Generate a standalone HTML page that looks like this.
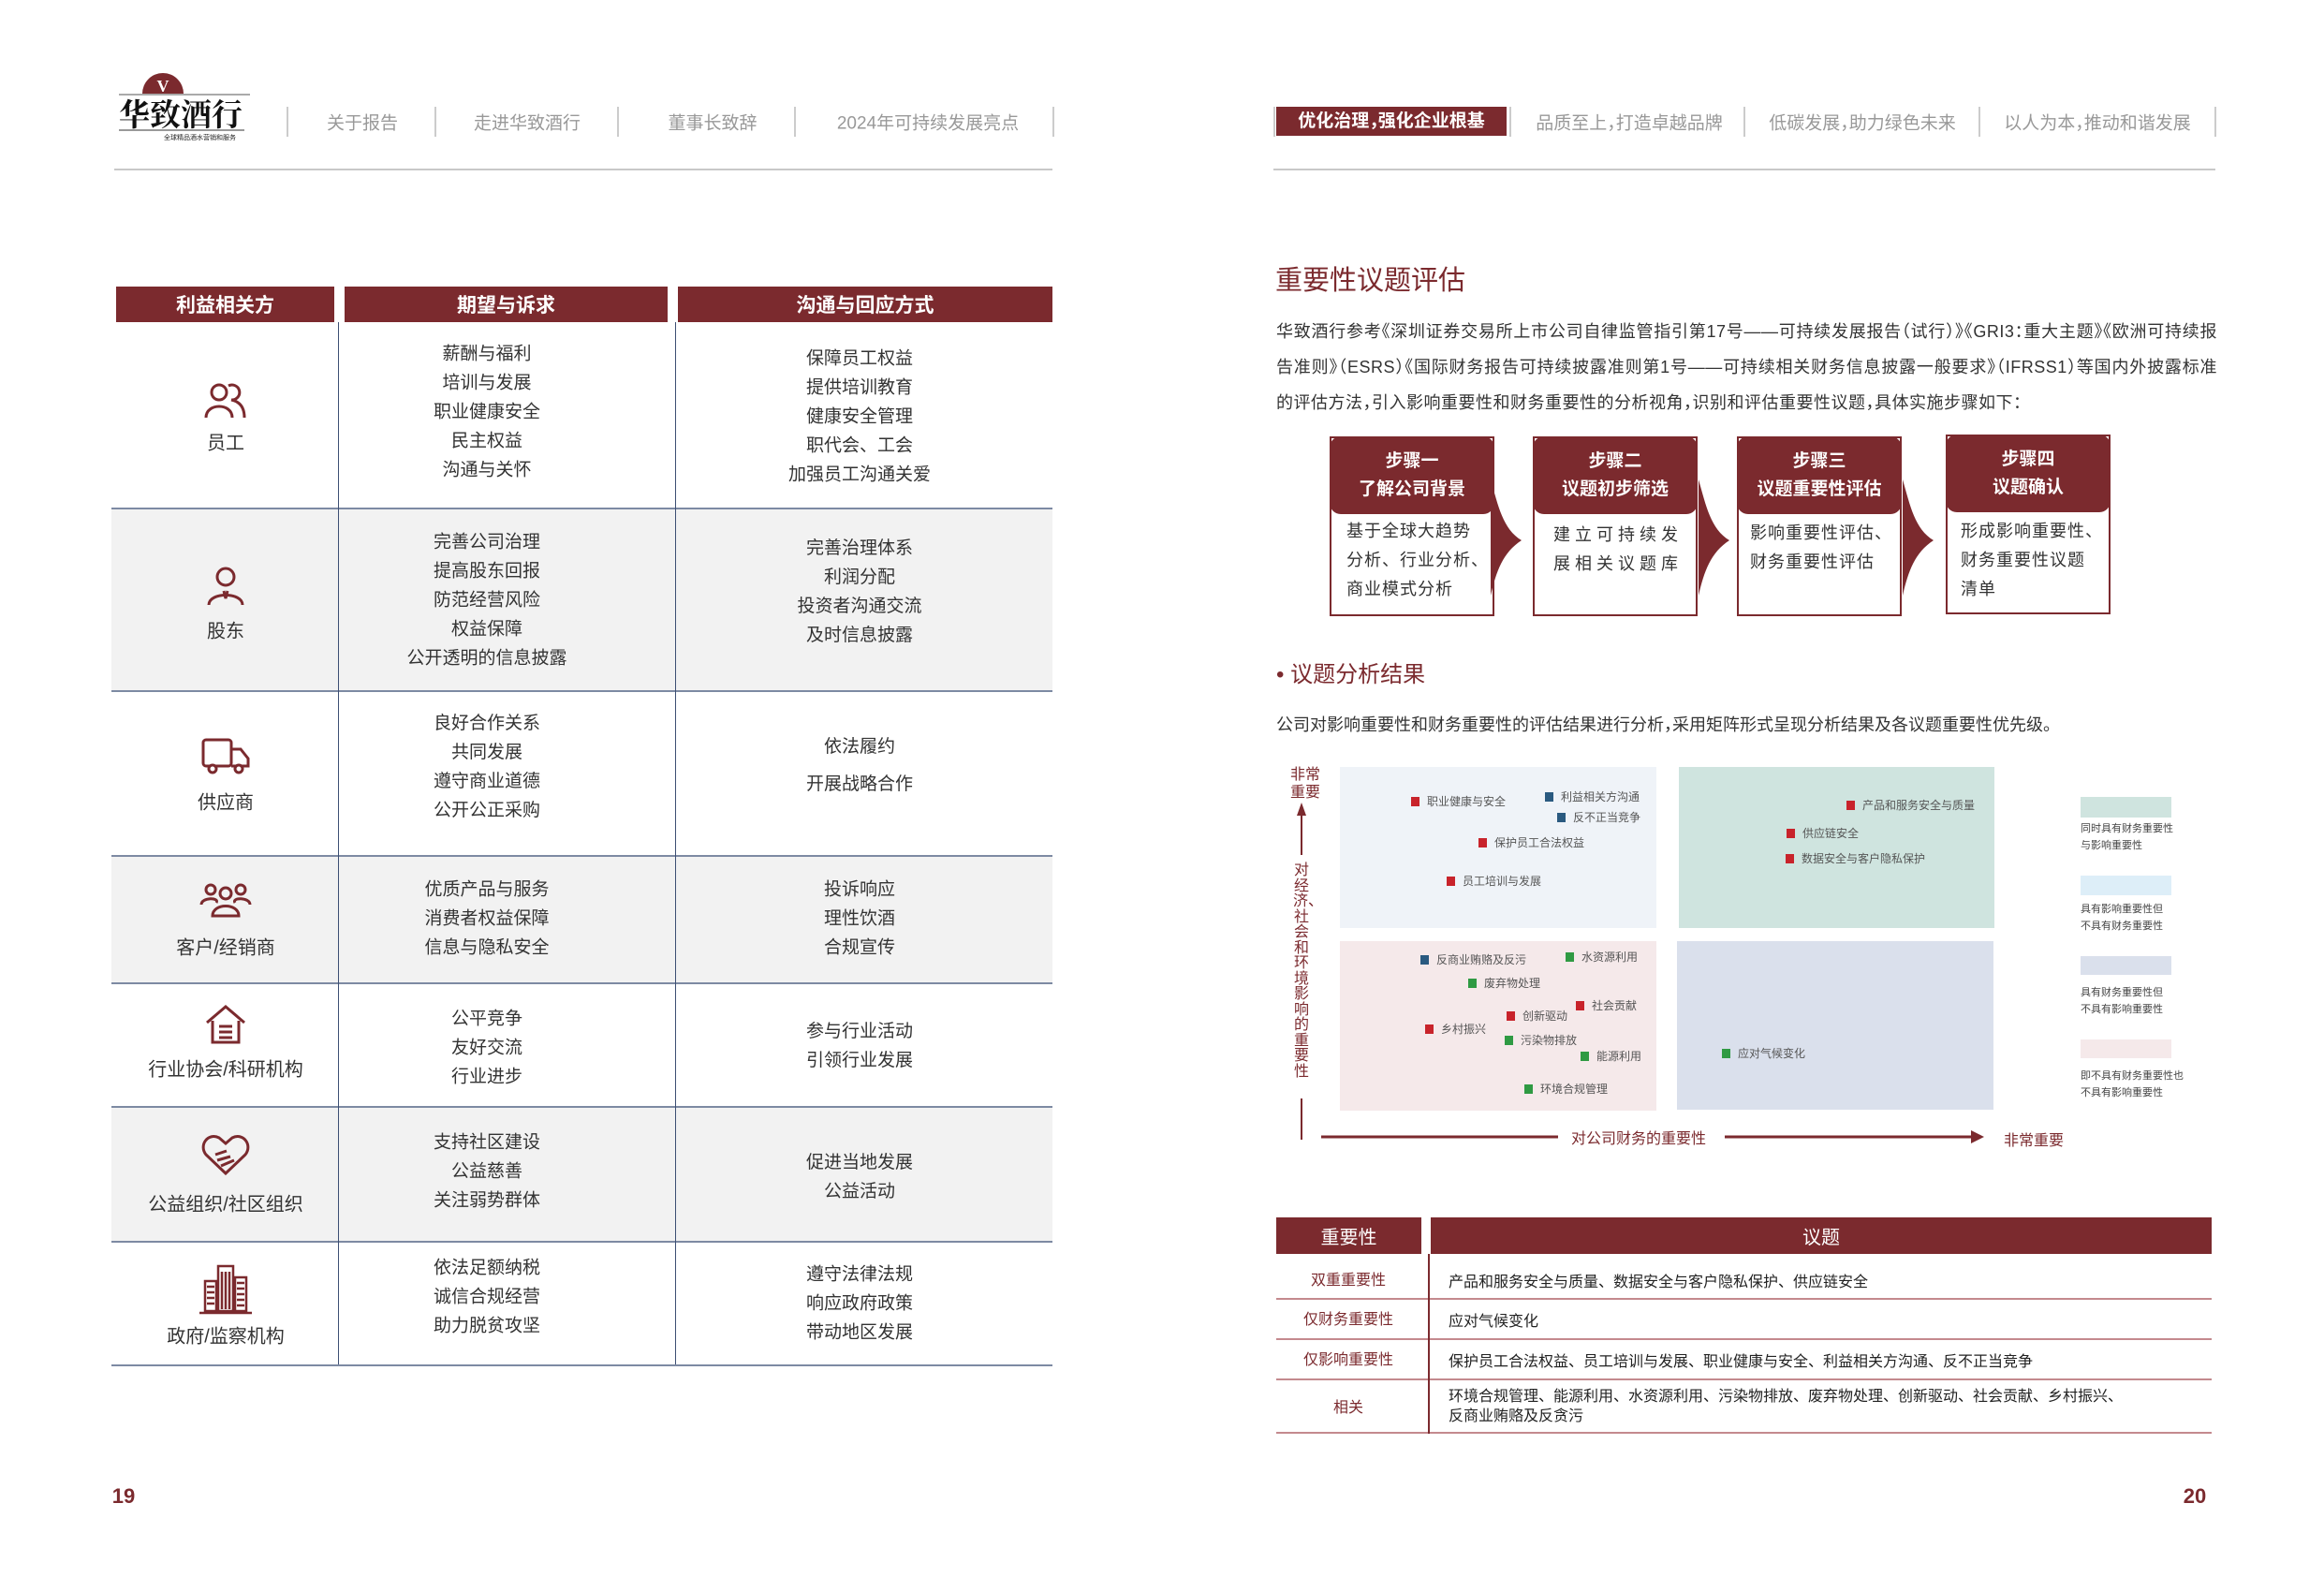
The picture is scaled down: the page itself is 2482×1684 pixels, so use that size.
<!DOCTYPE html>
<html><head><meta charset="utf-8"><style>
*{margin:0;padding:0;box-sizing:border-box}
body{width:2482px;height:1684px;background:#fff;position:relative;overflow:hidden;font-family:"Liberation Sans","Noto Sans CJK SC",sans-serif;color:#333}
.a{position:absolute;white-space:nowrap}
.c{position:absolute;white-space:nowrap;transform:translate(-50%,-50%);text-align:center}
.nav{font-size:19px;color:#999}
.sep{position:absolute;width:2px;background:#ccc}
.hd{position:absolute;background:#7b2a2e;color:#fff;font-weight:bold;font-size:21px;display:flex;align-items:center;justify-content:center}
.cell{font-size:19px;line-height:31px;color:#333}
.lbl{font-size:20px;color:#333}
.row{position:absolute;left:119px;width:1005px;border-bottom:2px solid #7d8aa3}
.mk{position:absolute;font-size:12px;color:#555;white-space:nowrap;line-height:12px}
.mk i{display:inline-block;width:9px;height:10px;margin-right:8px;vertical-align:-1px}
.r{background:#c8232b}.b{background:#2a5a80}.g{background:#2f9a43}
.lg{position:absolute;font-size:11px;color:#444;line-height:18px;left:2222px}
.step{position:absolute;top:466px;width:176px;height:192px;border:2px solid #7b2a2e;background:#fff}
.sh{position:absolute;left:-2px;top:-2px;width:176px;height:83px;background:#7b2a2e;border-radius:12px;color:#fff;font-weight:bold;font-size:19px;line-height:30px;text-align:center;padding-top:12px}
.sb{position:absolute;left:20px;top:84px;font-size:18px;line-height:31px;color:#333;letter-spacing:1px;white-space:nowrap}
.bt{position:absolute;left:1363px;width:999px;border-bottom:2px solid #c48a8e}
</style></head><body>

<!-- logo -->
<svg class="a" style="left:127px;top:68px" width="140" height="86" viewBox="0 0 140 86">
<path d="M25 32 A22 22 0 0 1 69 32 Z" fill="#7b2a2e"/>
<text x="47" y="30" font-size="18" font-weight="bold" fill="#fff" text-anchor="middle" font-family="Liberation Serif">V</text>
<line x1="0" y1="33" x2="140" y2="33" stroke="#555" stroke-width="1"/>
<text x="0" y="66" font-size="33" font-weight="bold" fill="#111" font-family="Noto Serif CJK SC,serif">华致酒行</text>
<line x1="0" y1="71" x2="134" y2="71" stroke="#333" stroke-width="1"/>
<text x="48" y="81" font-size="7" fill="#222" font-family="Noto Sans CJK SC">全球精品酒水营销和服务</text>
</svg>

<!-- left nav -->
<div class="sep" style="left:306px;top:114px;height:32px"></div>
<div class="sep" style="left:464px;top:114px;height:32px"></div>
<div class="sep" style="left:659px;top:114px;height:32px"></div>
<div class="sep" style="left:848px;top:114px;height:32px"></div>
<div class="sep" style="left:1124px;top:114px;height:32px"></div>
<div class="c nav" style="left:387px;top:130px">关于报告</div>
<div class="c nav" style="left:563px;top:130px">走进华致酒行</div>
<div class="c nav" style="left:761px;top:130px">董事长致辞</div>
<div class="c nav" style="left:991px;top:130px">2024年可持续发展亮点</div>
<div class="a" style="left:122px;top:180px;width:1002px;height:2px;background:#c8c8c8"></div>

<!-- right nav -->
<div class="sep" style="left:1360px;top:114px;height:32px"></div>
<div class="a" style="left:1363px;top:114px;width:246px;height:31px;background:#7b2a2e;color:#fff;font-weight:bold;font-size:19px;text-align:center;line-height:31px;font-feature-settings:'halt'">优化治理，强化企业根基</div>
<div class="sep" style="left:1612px;top:114px;height:32px"></div>
<div class="sep" style="left:1862px;top:114px;height:32px"></div>
<div class="sep" style="left:2113px;top:114px;height:32px"></div>
<div class="sep" style="left:2365px;top:114px;height:32px"></div>
<div class="c nav" style="left:1740px;top:130px;font-feature-settings:'halt'">品质至上，打造卓越品牌</div>
<div class="c nav" style="left:1989px;top:130px;font-feature-settings:'halt'">低碳发展，助力绿色未来</div>
<div class="c nav" style="left:2240px;top:130px;font-feature-settings:'halt'">以人为本，推动和谐发展</div>
<div class="a" style="left:1360px;top:180px;width:1006px;height:2px;background:#c8c8c8"></div>

<!-- left table -->
<div class="hd" style="left:124px;top:306px;width:233px;height:38px">利益相关方</div>
<div class="hd" style="left:368px;top:306px;width:345px;height:38px">期望与诉求</div>
<div class="hd" style="left:724px;top:306px;width:400px;height:38px">沟通与回应方式</div>

<div class="row" style="top:344px;height:200px"></div>
<div class="row" style="top:544px;height:195px;background:#f2f2f2"></div>
<div class="row" style="top:739px;height:176px"></div>
<div class="row" style="top:915px;height:136px;background:#f2f2f2"></div>
<div class="row" style="top:1051px;height:132px"></div>
<div class="row" style="top:1183px;height:144px;background:#f2f2f2"></div>
<div class="row" style="top:1327px;height:132px"></div>
<div class="a" style="left:361px;top:344px;width:1px;height:1113px;background:#3d4f73"></div>
<div class="a" style="left:721px;top:344px;width:1px;height:1113px;background:#3d4f73"></div>

<!-- icons -->
<svg class="c" style="left:241px;top:428px" width="48" height="40" viewBox="0 0 48 40" fill="none" stroke="#7b2a2e" stroke-width="3"><circle cx="17" cy="11" r="8"/><path d="M3 38 C3 22 31 22 31 38"/><path d="M27 4 A8 8 0 1 1 30 19 C40 21 44 28 44 38"/></svg>
<svg class="c" style="left:241px;top:626px" width="44" height="44" viewBox="0 0 44 44" fill="none" stroke="#7b2a2e" stroke-width="3"><circle cx="22" cy="12" r="9"/><path d="M4 42 C4 28 40 28 40 42"/><path d="M20 27 L22 35 L24 27"/></svg>
<svg class="c" style="left:241px;top:808px" width="52" height="40" viewBox="0 0 52 40" fill="none" stroke="#7b2a2e" stroke-width="3"><rect x="2" y="2" width="30" height="28" rx="3"/><path d="M32 12 H42 L50 22 V30 H32"/><circle cx="12" cy="33" r="4" fill="#fff"/><circle cx="40" cy="33" r="4" fill="#fff"/></svg>
<svg class="c" style="left:241px;top:962px" width="56" height="40" viewBox="0 0 56 40" fill="none" stroke="#7b2a2e" stroke-width="3"><circle cx="12" cy="8" r="5"/><circle cx="28" cy="12" r="6"/><circle cx="44" cy="8" r="5"/><path d="M2 24 C2 16 22 16 18 22"/><path d="M54 24 C54 16 34 16 38 22"/><path d="M14 36 C14 22 42 22 42 36 Z"/></svg>
<svg class="c" style="left:241px;top:1094px" width="48" height="44" viewBox="0 0 48 44" fill="none" stroke="#7b2a2e" stroke-width="3"><path d="M4 20 L24 3 L44 20 M10 18 V41 H38 V18"/><path d="M17 24 H31 M17 30 H31 M17 36 H31"/></svg>
<svg class="c" style="left:241px;top:1232px" width="54" height="46" viewBox="0 0 54 46" fill="none" stroke="#7b2a2e" stroke-width="3"><path d="M27 44 L6 24 C-2 14 8 0 20 6 L27 12 L34 6 C46 0 56 14 48 24 Z"/><path d="M16 24 L28 20 M18 30 L32 26 M22 36 L36 30"/></svg>
<svg class="c" style="left:241px;top:1376px" width="60" height="56" viewBox="0 0 60 56" fill="none" stroke="#7b2a2e" stroke-width="2.5"><rect x="8" y="20" width="12" height="32"/><rect x="22" y="4" width="16" height="48"/><rect x="40" y="16" width="12" height="36"/><path d="M2 54 H58 M26 10 V50 M30 10 V50 M34 10 V50 M10 26 H18 M10 32 H18 M10 38 H18 M10 44 H18 M42 22 H50 M42 28 H50 M42 34 H50 M42 40 H50 M42 46 H50"/></svg>

<div class="c lbl" style="left:241px;top:471px">员工</div>
<div class="c lbl" style="left:241px;top:672px">股东</div>
<div class="c lbl" style="left:241px;top:855px">供应商</div>
<div class="c lbl" style="left:241px;top:1010px">客户/经销商</div>
<div class="c lbl" style="left:241px;top:1140px">行业协会/科研机构</div>
<div class="c lbl" style="left:241px;top:1284px">公益组织/社区组织</div>
<div class="c lbl" style="left:241px;top:1425px">政府/监察机构</div>

<div class="c cell" style="left:520px;top:440px">薪酬与福利<br>培训与发展<br>职业健康安全<br>民主权益<br>沟通与关怀</div>
<div class="c cell" style="left:918px;top:445px">保障员工权益<br>提供培训教育<br>健康安全管理<br>职代会、工会<br>加强员工沟通关爱</div>
<div class="c cell" style="left:520px;top:641px">完善公司治理<br>提高股东回报<br>防范经营风险<br>权益保障<br>公开透明的信息披露</div>
<div class="c cell" style="left:918px;top:632px">完善治理体系<br>利润分配<br>投资者沟通交流<br>及时信息披露</div>
<div class="c cell" style="left:520px;top:819px">良好合作关系<br>共同发展<br>遵守商业道德<br>公开公正采购</div>
<div class="c cell" style="left:918px;top:818px;line-height:40px">依法履约<br>开展战略合作</div>
<div class="c cell" style="left:520px;top:981px">优质产品与服务<br>消费者权益保障<br>信息与隐私安全</div>
<div class="c cell" style="left:918px;top:981px">投诉响应<br>理性饮酒<br>合规宣传</div>
<div class="c cell" style="left:520px;top:1119px">公平竞争<br>友好交流<br>行业进步</div>
<div class="c cell" style="left:918px;top:1117px">参与行业活动<br>引领行业发展</div>
<div class="c cell" style="left:520px;top:1251px">支持社区建设<br>公益慈善<br>关注弱势群体</div>
<div class="c cell" style="left:918px;top:1257px">促进当地发展<br>公益活动</div>
<div class="c cell" style="left:520px;top:1385px">依法足额纳税<br>诚信合规经营<br>助力脱贫攻坚</div>
<div class="c cell" style="left:918px;top:1392px">遵守法律法规<br>响应政府政策<br>带动地区发展</div>

<div class="c" style="left:132px;top:1598px;font-size:22px;font-weight:bold;color:#7b2a2e">19</div>
<div class="c" style="left:2344px;top:1598px;font-size:22px;font-weight:bold;color:#7b2a2e">20</div>

<!-- right page -->
<div class="a" style="left:1362px;top:276px;font-size:29px;color:#7b2a2e">重要性议题评估</div>
<div class="a" style="left:1363px;top:335px;width:1005px;font-size:18px;line-height:38px;color:#333;white-space:normal;text-align:justify;font-feature-settings:'halt';letter-spacing:0.5px">华致酒行参考《深圳证券交易所上市公司自律监管指引第17号——可持续发展报告（试行）》《GRI3：重大主题》《欧洲可持续报告准则》（ESRS）《国际财务报告可持续披露准则第1号——可持续相关财务信息披露一般要求》（IFRSS1）等国内外披露标准的评估方法，引入影响重要性和财务重要性的分析视角，识别和评估重要性议题，具体实施步骤如下：</div>

<div class="step" style="left:1420px"><div class="sh">步骤一<br>了解公司背景</div><div class="sb" style="left:16px">基于全球大趋势<br>分析、行业分析、<br>商业模式分析</div></div>
<div class="step" style="left:1637px"><div class="sh">步骤二<br>议题初步筛选</div><div class="sb" style="top:88px;letter-spacing:5px">建立可持续发<br>展相关议题库</div></div>
<div class="step" style="left:1855px"><div class="sh">步骤三<br>议题重要性评估</div><div class="sb" style="left:12px;top:86px;letter-spacing:1px">影响重要性评估、<br>财务重要性评估</div></div>
<div class="step" style="left:2078px;top:464px"><div class="sh">步骤四<br>议题确认</div><div class="sb" style="left:14px;top:86px;letter-spacing:1px">形成影响重要性、<br>财务重要性议题<br>清单</div></div>
<svg class="a" style="left:0;top:0" width="2482" height="700" viewBox="0 0 2482 700">
<g fill="#7b2a2e">
<path d="M1592 512 C1600 540 1605 565 1625 577 C1605 590 1598 610 1592 636 Z"/>
<path d="M1814 512 C1822 540 1827 565 1847 577 C1827 590 1820 610 1814 636 Z"/>
<path d="M2032 512 C2040 540 2045 565 2065 577 C2045 590 2038 610 2032 636 Z"/>
</g></svg>

<div class="a" style="left:1363px;top:700px;font-size:24px;color:#7b2a2e">• 议题分析结果</div>
<div class="a" style="left:1363px;top:760px;font-size:18px;color:#333;font-feature-settings:'halt'">公司对影响重要性和财务重要性的评估结果进行分析，采用矩阵形式呈现分析结果及各议题重要性优先级。</div>

<!-- matrix -->
<div class="a" style="left:1431px;top:819px;width:338px;height:172px;background:#eff3f8"></div>
<div class="a" style="left:1793px;top:819px;width:337px;height:172px;background:#cfe4df"></div>
<div class="a" style="left:1431px;top:1005px;width:338px;height:181px;background:#f5e9ea"></div>
<div class="a" style="left:1791px;top:1005px;width:338px;height:180px;background:#dae0ec"></div>

<div class="a" style="left:1378px;top:818px;font-size:16px;line-height:19px;color:#7b2a2e;text-align:center">非常<br>重要</div>
<svg class="a" style="left:1380px;top:855px" width="20" height="370" viewBox="0 0 20 370"><path d="M10 2 L5 16 L15 16 Z" fill="#7b2a2e"/><line x1="10" y1="14" x2="10" y2="58" stroke="#7b2a2e" stroke-width="2"/><line x1="10" y1="318" x2="10" y2="362" stroke="#7b2a2e" stroke-width="2"/></svg>
<div class="a" style="left:1381px;top:922px;width:18px;font-size:16px;line-height:16.5px;color:#7b2a2e;white-space:normal;text-align:center">对经济、社会和环境影响的重要性</div>

<svg class="a" style="left:1405px;top:1202px" width="730" height="24" viewBox="0 0 730 24"><line x1="6" y1="12" x2="259" y2="12" stroke="#7b2a2e" stroke-width="3"/><line x1="437" y1="12" x2="702" y2="12" stroke="#7b2a2e" stroke-width="3"/><path d="M714 12 L700 5 L700 19 Z" fill="#7b2a2e"/></svg>
<div class="c" style="left:1750px;top:1214px;font-size:16px;color:#7b2a2e">对公司财务的重要性</div>
<div class="c" style="left:2172px;top:1216px;font-size:16px;color:#7b2a2e">非常重要</div>

<div class="mk" style="left:1507px;top:850px"><i class="r"></i>职业健康与安全</div>
<div class="mk" style="left:1650px;top:845px"><i class="b"></i>利益相关方沟通</div>
<div class="mk" style="left:1663px;top:867px"><i class="b"></i>反不正当竞争</div>
<div class="mk" style="left:1579px;top:894px"><i class="r"></i>保护员工合法权益</div>
<div class="mk" style="left:1545px;top:935px"><i class="r"></i>员工培训与发展</div>
<div class="mk" style="left:1972px;top:854px"><i class="r"></i>产品和服务安全与质量</div>
<div class="mk" style="left:1908px;top:884px"><i class="r"></i>供应链安全</div>
<div class="mk" style="left:1907px;top:911px"><i class="r"></i>数据安全与客户隐私保护</div>
<div class="mk" style="left:1517px;top:1019px"><i class="b"></i>反商业贿赂及反污</div>
<div class="mk" style="left:1672px;top:1016px"><i class="g"></i>水资源利用</div>
<div class="mk" style="left:1568px;top:1044px"><i class="g"></i>废弃物处理</div>
<div class="mk" style="left:1683px;top:1068px"><i class="r"></i>社会贡献</div>
<div class="mk" style="left:1609px;top:1079px"><i class="r"></i>创新驱动</div>
<div class="mk" style="left:1522px;top:1093px"><i class="r"></i>乡村振兴</div>
<div class="mk" style="left:1607px;top:1105px"><i class="g"></i>污染物排放</div>
<div class="mk" style="left:1688px;top:1122px"><i class="g"></i>能源利用</div>
<div class="mk" style="left:1628px;top:1157px"><i class="g"></i>环境合规管理</div>
<div class="mk" style="left:1839px;top:1119px"><i class="g"></i>应对气候变化</div>

<div class="a" style="left:2222px;top:851px;width:97px;height:22px;background:#cfe4df"></div>
<div class="a" style="left:2222px;top:935px;width:97px;height:21px;background:#ddeef8"></div>
<div class="a" style="left:2222px;top:1021px;width:97px;height:20px;background:#dae0ec"></div>
<div class="a" style="left:2222px;top:1110px;width:97px;height:20px;background:#f5e9ea"></div>
<div class="lg" style="top:876px">同时具有财务重要性<br>与影响重要性</div>
<div class="lg" style="top:962px">具有影响重要性但<br>不具有财务重要性</div>
<div class="lg" style="top:1051px">具有财务重要性但<br>不具有影响重要性</div>
<div class="lg" style="top:1140px">即不具有财务重要性也<br>不具有影响重要性</div>

<!-- bottom table -->
<div class="hd" style="left:1363px;top:1300px;width:155px;height:39px;font-weight:normal;font-size:20px">重要性</div>
<div class="hd" style="left:1528px;top:1300px;width:834px;height:39px;font-weight:normal;font-size:20px">议题</div>
<div class="bt" style="top:1339px;height:49px"></div>
<div class="bt" style="top:1388px;height:43px"></div>
<div class="bt" style="top:1431px;height:43px"></div>
<div class="bt" style="top:1474px;height:57px"></div>
<div class="a" style="left:1525px;top:1339px;width:2px;height:192px;background:#7b2a2e"></div>
<div class="c" style="left:1440px;top:1365px;font-size:16px;color:#7b2a2e">双重重要性</div>
<div class="c" style="left:1440px;top:1407px;font-size:16px;color:#7b2a2e">仅财务重要性</div>
<div class="c" style="left:1440px;top:1450px;font-size:16px;color:#7b2a2e">仅影响重要性</div>
<div class="c" style="left:1440px;top:1501px;font-size:16px;color:#7b2a2e">相关</div>
<div class="a" style="left:1547px;top:1355px;font-size:16px;color:#222">产品和服务安全与质量、数据安全与客户隐私保护、供应链安全</div>
<div class="a" style="left:1547px;top:1397px;font-size:16px;color:#222">应对气候变化</div>
<div class="a" style="left:1547px;top:1440px;font-size:16px;color:#222">保护员工合法权益、员工培训与发展、职业健康与安全、利益相关方沟通、反不正当竞争</div>
<div class="a" style="left:1547px;top:1481px;font-size:16px;line-height:21px;color:#222">环境合规管理、能源利用、水资源利用、污染物排放、废弃物处理、创新驱动、社会贡献、乡村振兴、<br>反商业贿赂及反贪污</div>

</body></html>
